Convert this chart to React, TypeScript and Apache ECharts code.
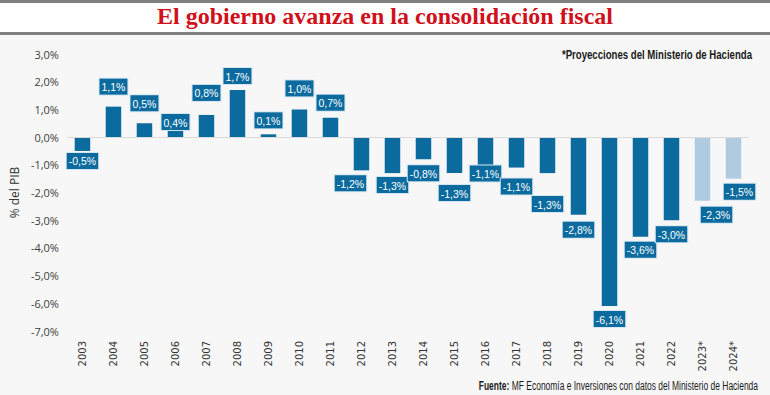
import React, { useEffect, useRef } from "react";
import * as echarts from "echarts";

const years = ["2003","2004","2005","2006","2007","2008","2009","2010","2011","2012","2013","2014","2015","2016","2017","2018","2019","2020","2021","2022","2023*","2024*"];
const balance = [-0.5,1.1,0.5,0.4,0.8,1.7,0.1,1.0,0.7,-1.2,-1.3,-0.8,-1.3,-1.1,-1.1,-1.3,-2.8,-6.1,-3.6,-3.0,-2.3,-1.5];
const projected = [false,false,false,false,false,false,false,false,false,false,false,false,false,false,false,false,false,false,false,false,true,true];
const yTicks = { min: -7, max: 3, interval: 1 };

// layout nudges for the value labels (gap from bar end, horizontal shift), in px
const labelGap = [2,12,12,-4,14,6,6,13,7,5,4,6,12,-2,11,23,7,5,5,6,6,5];
const labelShift = [0,0,0,0,0,0,0,0,0,-11,0,0,0,0,0,0,0,0,0,0,14,6];

const fmt = (v: number) => v.toFixed(1).replace(".", ",") + "%";

export default function App() {
  const ref = useRef<HTMLDivElement>(null);
  useEffect(() => {
    if (!ref.current) return;
    const chart = echarts.init(ref.current, null, { renderer: "svg" });
    const sans = "'Liberation Sans', Arial, sans-serif";
    const data = balance.map((v, i) => ({
      value: v,
      itemStyle: { color: projected[i] ? "#aecbe2" : "#0b6b9e" },
      label: {
        position: v >= 0 ? "top" : "bottom",
        distance: labelGap[i],
        offset: [labelShift[i], 0],
      },
    }));
    chart.setOption({
      animation: false,
      backgroundColor: "#f7f7f7",
      grid: { left: 60, right: 21, top: 54, bottom: 64, containLabel: false },
      xAxis: {
        type: "category",
        data: years,
        axisLine: { show: false },
        axisTick: { show: false },
        axisLabel: { rotate: 90, margin: 10, fontFamily: "'DejaVu Sans', sans-serif", fontSize: 10, color: "#333" },
      },
      yAxis: {
        type: "value",
        min: yTicks.min,
        max: yTicks.max,
        interval: yTicks.interval,
        name: "% del PIB",
        nameLocation: "middle",
        nameGap: 40,
        nameTextStyle: { fontFamily: "'Open Sans', sans-serif", fontSize: 12, color: "#333" },
        splitLine: { show: false },
        axisLine: { show: false },
        axisTick: { show: false },
        axisLabel: {
          margin: 8,
          fontFamily: "'Open Sans', sans-serif",
          fontSize: 11,
          color: "#404040",
          formatter: (v: number) => fmt(v),
        },
      },
      series: [
        {
          type: "bar",
          data,
          barWidth: "50%",
          label: {
            show: true,
            formatter: (p: any) => fmt(p.value),
            color: "#fff",
            fontFamily: sans,
            fontSize: 10.5,
            backgroundColor: "#0b6b9e",
            borderColor: "#d5e6f1",
            borderWidth: 1,
            padding: [3, 2, 2, 2],
          },
          markLine: {
            silent: true,
            symbol: "none",
            label: { show: false },
            lineStyle: { color: "#dadada", width: 1, type: "solid" },
            data: [{ yAxis: 0 }],
          },
        },
      ],
      graphic: [
        { type: "rect", left: 0, top: 0, shape: { width: 770, height: 35 }, style: { fill: "#ffffff" }, silent: true },
        { type: "rect", left: 0, top: 0, shape: { width: 770, height: 3 }, style: { fill: "#808080" }, silent: true },
        { type: "rect", left: 0, top: 32, shape: { width: 770, height: 3 }, style: { fill: "#808080" }, silent: true },
        {
          type: "text",
          left: "center",
          top: 4,
          style: {
            text: "El gobierno avanza en la consolidación fiscal",
            font: "bold 24px 'Liberation Serif', serif",
            fill: "#d0101a",
          },
        },
        {
          type: "text",
          x: 752,
          y: 54,
          scaleX: 0.74,
          style: {
            x: 0,
            y: 0,
            text: "*Proyecciones del Ministerio de Hacienda",
            font: "bold 13px " + sans,
            fill: "#1a1a1a",
            align: "right",
            verticalAlign: "middle",
          },
        },
        {
          type: "text",
          x: 758,
          y: 386,
          scaleX: 0.705,
          style: {
            x: 0,
            y: 0,
            align: "right",
            verticalAlign: "middle",
            rich: {
              b: { font: "bold 12px " + sans, fill: "#1a1a1a" },
              n: { font: "12px " + sans, fill: "#1a1a1a" },
            },
            text: "{b|Fuente:} {n|MF Economía e Inversiones con datos del Ministerio de Hacienda}",
          },
        },
      ],
    });
    return () => chart.dispose();
  }, []);
  return <div ref={ref} style={{ position: "fixed", left: 0, top: 0, width: 770, height: 395 }} />;
}
